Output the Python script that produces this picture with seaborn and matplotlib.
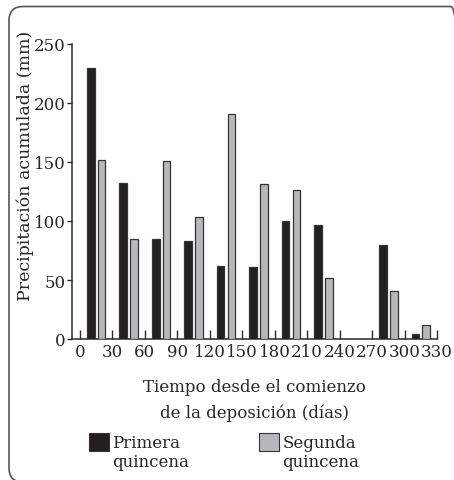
import matplotlib
matplotlib.use("Agg")
import matplotlib.pyplot as plt
from matplotlib.patches import Patch, FancyBboxPatch
from matplotlib.transforms import IdentityTransform
import numpy as np
import pandas as pd
import seaborn as sns

# Rainfall accumulated in each 30-day period, split by fortnight
inicio_periodo = [0, 30, 60, 90, 120, 150, 180, 210, 240, 270, 300]
primera_quincena = [230, 132, 85, 83, 62, 61, 100, 97, 0, 80, 4]
segunda_quincena = [152, 85, 151, 103, 191, 131, 126, 52, 0, 41, 12]
ticks_dias = [0, 30, 60, 90, 120, 150, 180, 210, 240, 270, 300, 330]
ticks_mm = [0, 50, 100, 150, 200, 250]

series = ["Primera quincena", "Segunda quincena"]
colores = {"Primera quincena": "#231f20", "Segunda quincena": "#b7b8bb"}

# bar centres inside each 30-day period
desplazamiento = {"Primera quincena": 10, "Segunda quincena": 20}

filas = []
for nombre, valores in zip(series, [primera_quincena, segunda_quincena]):
    for ini, v in zip(inicio_periodo, valores):
        filas.append({"dia": ini + desplazamiento[nombre], "mm": v, "serie": nombre})
df = pd.DataFrame(filas)

sns.set_theme(style="white")
plt.rcParams["font.family"] = ["DejaVu Serif"]
plt.rcParams["font.size"] = 12

fig = plt.figure(figsize=(4.54, 4.81), dpi=100)
ax = fig.add_axes([72 / 454, 1 - 340 / 481, 365 / 454, 295 / 481])

sns.barplot(data=df, x="dia", y="mm", hue="serie", palette=colores,
            native_scale=True, dodge=False, width=0.7, legend=False,
            edgecolor="#333333", linewidth=0.9, ax=ax, zorder=3)

ax.set_xlim(-7.4, 330)
ax.set_ylim(0, 250)
ax.set_xticks(ticks_dias)
ax.set_xticklabels([str(t) for t in ticks_dias])
ax.set_yticks(ticks_mm)
ax.set_yticklabels([str(t) for t in ticks_mm])

for lado in ["top", "right"]:
    ax.spines[lado].set_visible(False)
for lado in ["left", "bottom"]:
    ax.spines[lado].set_color("#2a2a2a")
    ax.spines[lado].set_linewidth(1.1)

ax.tick_params(axis="x", direction="in", length=6.5, width=1.0, color="#2a2a2a",
               pad=3, labelsize=12, bottom=True)
ax.tick_params(axis="y", direction="out", length=3.5, width=1.0, color="#2a2a2a",
               pad=1, labelsize=12, left=True)

ax.set_xlabel("Tiempo desde el comienzo\nde la deposición (días)",
              fontsize=12, labelpad=13, linespacing=1.6)
ax.set_ylabel("Precipitación acumulada (mm)", fontsize=12.5)
ax.yaxis.set_label_coords(-0.105, 0.59)

handles = [Patch(facecolor=colores[series[0]], edgecolor="#333333", linewidth=0.8),
           Patch(facecolor="none", edgecolor="none"),
           Patch(facecolor=colores[series[1]], edgecolor="#333333", linewidth=0.8),
           Patch(facecolor="none", edgecolor="none")]
etiquetas = ["Primera", "quincena", "Segunda", "quincena"]
fig.legend(handles, etiquetas, ncol=2, loc="upper left",
           bbox_to_anchor=(89 / 454, 1 - 434 / 481), frameon=False,
           handlelength=1.2, handleheight=1.25, handletextpad=0.2,
           labelspacing=0.0, columnspacing=4.2, borderpad=0.0,
           borderaxespad=0.0, fontsize=12)

# rounded frame around the figure
marco = FancyBboxPatch((9, -2), 456, 475.5,
                       boxstyle="round,pad=0,rounding_size=14",
                       transform=IdentityTransform(), facecolor="none",
                       edgecolor="#555555", linewidth=1.2)
fig.patches.append(marco)

fig.savefig("out.png", dpi=100)
